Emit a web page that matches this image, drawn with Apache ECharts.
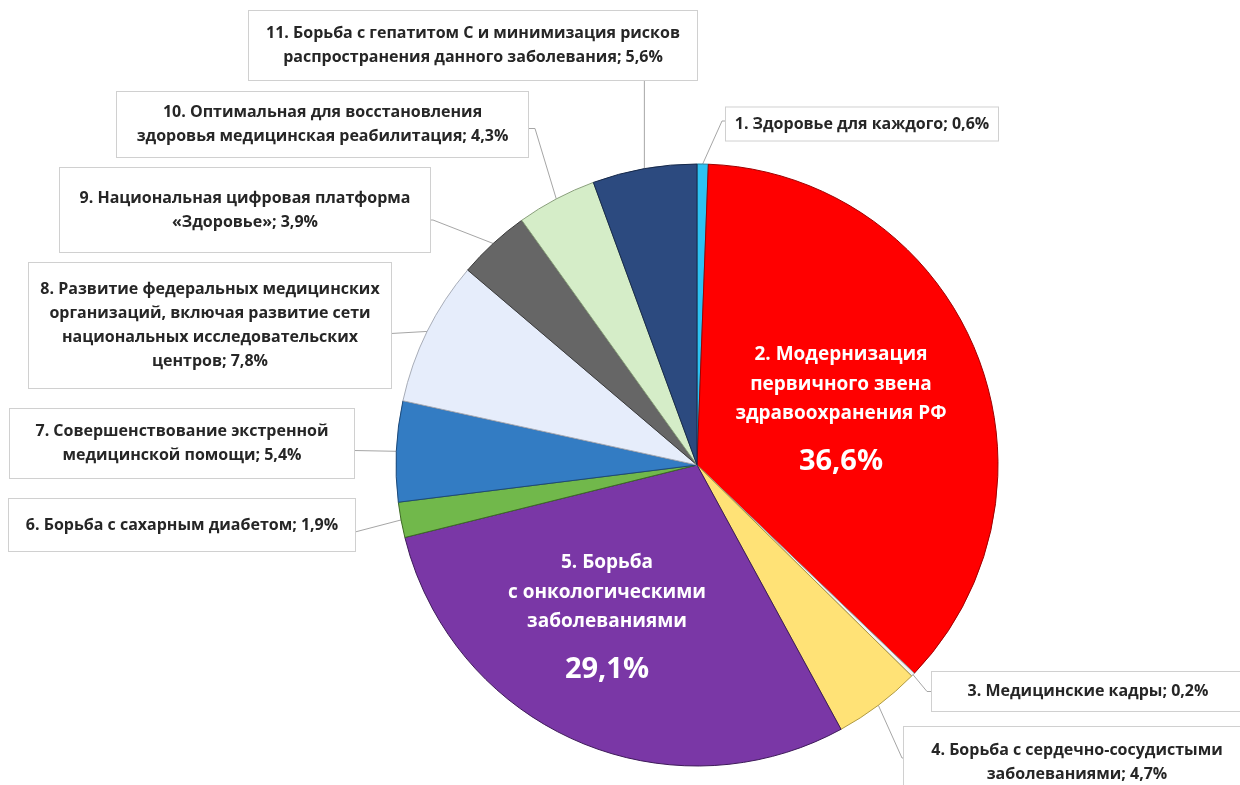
<!DOCTYPE html>
<html>
<head>
<meta charset="utf-8">
<script src="https://cdn.jsdelivr.net/npm/echarts@6/dist/echarts.min.js"></script>
<style>
html,body{margin:0;padding:0;background:#fff;}
#c{width:1240px;height:785px;}
</style>
</head>
<body>
<div id="c"></div>
<script>
// ---- data ----
const categories = [
  '1. Здоровье для каждого',
  '2. Модернизация\nпервичного звена\nздравоохранения РФ',
  '3. Медицинские кадры',
  '4. Борьба с сердечно-сосудистыми\nзаболеваниями',
  '5. Борьба\nс онкологическими\nзаболеваниями',
  '6. Борьба с сахарным диабетом',
  '7. Совершенствование экстренной\nмедицинской помощи',
  '8. Развитие федеральных медицинских\nорганизаций, включая развитие сети\nнациональных исследовательских\nцентров',
  '9. Национальная цифровая платформа\n«Здоровье»',
  '10. Оптимальная для восстановления\nздоровья медицинская реабилитация',
  '11. Борьба с гепатитом С и минимизация рисков\nраспространения данного заболевания'
];
const shares = [0.6, 36.6, 0.2, 4.7, 29.1, 1.9, 5.4, 7.8, 3.9, 4.3, 5.6];
const insideLabels = [1, 4];

// ---- styles ----
const colors = ['#2ec2f2', '#ff0000', '#f4f4f4', '#ffe276', '#7a37a6', '#71b84b', '#337cc3', '#e6edfb', '#666666', '#d5edc8', '#2c4a7f'];
const borders = ['#1a7fa0', '#a00000', '#9a9a9a', '#b09a40', '#3e1a5a', '#3d6a25', '#1d4a7a', '#a8adb8', '#3a3a3a', '#8aa07c', '#16294a'];
const FONT = '"Open Sans", "Noto Sans", sans-serif';
// label boxes: centre, size, how the leader line meets the box
const boxes = [
  {cx: 862, cy: 124, w: 272, h: 33, side: 'left', dy: -3, elbow: 4},
  {x: 841, y: 340},
  {cx: 1088, cy: 691.5, w: 312, h: 39, side: 'left', dy: 0, elbow: 5},
  {cx: 1077, cy: 762, w: 346, h: 70, side: 'left', dy: -4, elbow: 2},
  {x: 607, y: 548},
  {cx: 182, cy: 525, w: 346, h: 52, side: 'right', dy: 7, elbow: 0},
  {cx: 182, cy: 443.5, w: 344, h: 69, side: 'right', dy: 7, elbow: 0},
  {cx: 210, cy: 325.5, w: 362, h: 125, side: 'right', dy: 8, elbow: 0},
  {cx: 245, cy: 210, w: 370, h: 84, side: 'right', dy: 10, elbow: 3},
  {cx: 322.5, cy: 124.5, w: 411, h: 65, side: 'right', dy: 4, elbow: 7},
  {cx: 473, cy: 45.5, w: 448, h: 69, side: 'bottom'}
];
const LH = 24;

function pct(v) { return v.toFixed(1).replace('.', ',') + '%'; }

const data = categories.map(function (name, i) {
  const item = {
    name: name,
    value: shares[i],
    itemStyle: {color: colors[i], borderColor: borders[i], borderWidth: 1}
  };
  if (insideLabels.indexOf(i) >= 0) {
    item.label = {
      position: 'inside',
      backgroundColor: 'transparent',
      borderWidth: 0,
      padding: 0,
      formatter: function (p) {
        return p.name.split('\n').map(function (l) { return '{t|' + l + '}'; }).join('\n') + '\n{p|' + pct(p.value) + '}';
      },
      rich: {
        t: {color: '#fff', fontSize: 19, fontWeight: 'bold', fontFamily: FONT, lineHeight: 29.5, align: 'center'},
        p: {color: '#fff', fontSize: 29, fontWeight: 'bold', fontFamily: FONT, lineHeight: 66, align: 'center'}
      }
    };
    item.labelLine = {show: false};
  } else {
    const b = boxes[i];
    const nLines = name.split('\n').length;
    const padV = (b.h - nLines * LH) / 2;
    item.label = {
      position: 'outside',
      width: b.w - 20,
      padding: [padV, 10],
      lineHeight: LH,
      align: 'center'
    };
  }
  return item;
});

const chart = echarts.init(document.getElementById('c'), null, {renderer: 'canvas'});
chart.setOption({
  backgroundColor: '#ffffff',
  animation: false,
  series: [{
    type: 'pie',
    center: [697, 465],
    radius: 301,
    startAngle: 90,
    clockwise: true,
    avoidLabelOverlap: false,
    data: data,
    label: {
      show: true,
      formatter: function (p) { return p.name + '; ' + pct(p.value); },
      color: '#262626',
      fontFamily: FONT,
      fontWeight: 'bold',
      fontSize: 16,
      backgroundColor: '#ffffff',
      borderColor: '#d0d0d0',
      borderWidth: 1,
      overflow: 'none'
    },
    labelLine: {
      show: true,
      length: 10,
      length2: 10,
      lineStyle: {color: '#a6a6a6', width: 1}
    },
    emphasis: {disabled: true},
    labelLayout: function (params) {
      const i = params.dataIndex;
      const b = boxes[i];
      if (!b) return {};
      if (b.cx === undefined) {
        return {x: b.x, y: b.y, align: 'center', verticalAlign: 'top'};
      }
      const res = {x: b.cx, y: b.cy, align: 'center', verticalAlign: 'middle'};
      const pts = params.labelLinePoints;
      if (pts && pts.length) {
        const p0 = pts[0];
        let end, elbow;
        if (b.side === 'bottom') {
          end = [p0[0], b.cy + b.h / 2];
          elbow = [p0[0], b.cy + b.h / 2 + 1];
        } else if (b.side === 'left') {
          end = [b.cx - b.w / 2, b.cy + b.dy];
          elbow = [end[0] - b.elbow, end[1]];
        } else {
          end = [b.cx + b.w / 2, b.cy + b.dy];
          elbow = [end[0] + b.elbow, end[1]];
        }
        res.labelLinePoints = [p0, elbow, end];
      }
      return res;
    }
  }]
});
</script>
</body>
</html>
